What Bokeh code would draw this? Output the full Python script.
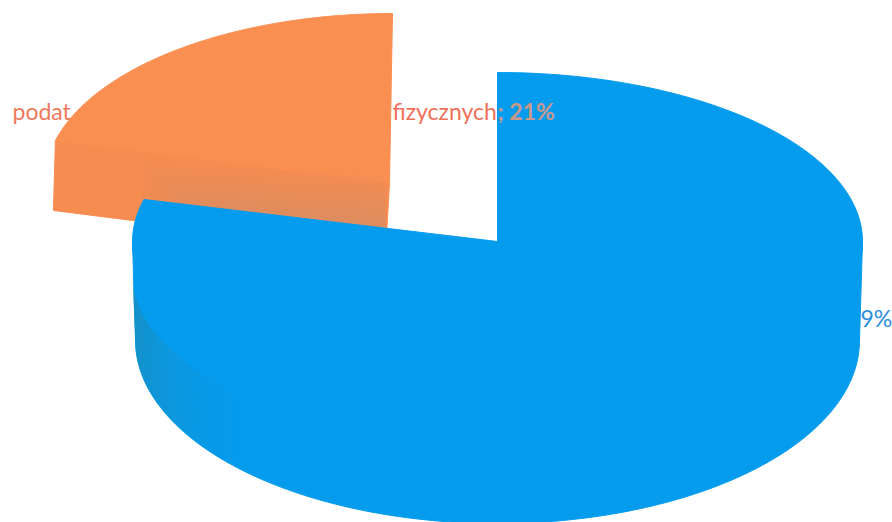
import numpy as np
from bokeh.plotting import figure
from bokeh.models import Range1d
from bokeh.core.properties import value
from bokeh.embed import file_html
from bokeh.resources import INLINE

categories = ["blue share", "podat... fizycznych"]
shares = [79, 21]
label_parts = ["podat", "fizycznych", "; 21%", "9%"]

BLUE = "#069CEE"
BLUE_DARK = "#1B8DB8"
ORANGE = "#FA8F52"
ORANGE_FACE = "#F78C50"

W, H = 892, 522
p = figure(width=W, height=H, output_backend="svg", toolbar_location=None,
           x_range=Range1d(0, W), y_range=Range1d(H, 0),
           min_border=0, outline_line_color=None, background_fill_color="white",
           border_fill_color="white")
p.axis.visible = False
p.grid.visible = False


def ell(cx, cy, rx, ry, a0, a1, n=160):
    """Points of an ellipse; angles clockwise from twelve o'clock, in radians."""
    t = np.linspace(a0, a1, n)
    return cx + rx * np.sin(t), cy - ry * np.cos(t)


split = 2 * np.pi * shares[0] / sum(shares)

# label text sits below the slices
fs = "23px"
font = value("Lato")
p.text([12], [110], text=[label_parts[0]], text_color="#F0785C", text_font=font,
       text_font_size=fs, text_baseline="middle")
p.text([392], [110], text=[label_parts[1]], text_color="#EE7058", text_font=font,
       text_font_size=fs, text_baseline="middle")

# exploded orange slice
ocx, ocy, orx, ory, od = 392, 182, 348, 169, 70
xt, yt = ell(ocx, ocy, orx, ory, split, 2 * np.pi)
top_x = list(xt) + [ocx - 3]
top_y = list(yt) + [ocy]
face_x = [xt[0], ocx - 3, ocx - 7, xt[0] - 2]
face_y = [yt[0], ocy, ocy + od, yt[0] + od]
p.patch(face_x, face_y, fill_color=ORANGE_FACE, line_color=ORANGE_FACE)
p.patch(top_x, top_y, fill_color=ORANGE, line_color=ORANGE)
# greyish soft shading of the cut face
for k in range(7):
    left = xt[0] + 85 + 9 * k
    right = ocx - 7
    top_l = yt[0] + 22 + 7 * k
    top_r = top_l + 14
    gx = [left, right, right, left]
    gy = [top_l, top_r, ocy + od, yt[0] + od]
    p.patch(gx, gy, fill_color="#A8968C", fill_alpha=0.05, line_color=None)

# blue pie
cx, cy, rx, ry = 497, 241, 365, 169
lcy, lrx, lry = 340, 362, 183
x_low, y_low = ell(cx, lcy, lrx, lry, np.pi / 2, 3 * np.pi / 2)
x_up, y_up = ell(cx, cy, rx, ry, 3 * np.pi / 2, np.pi / 2)
p.patch(list(x_low) + list(x_up), list(y_low) + list(y_up),
        fill_color=BLUE, line_color=BLUE)

# darker left part of the rim, fading to the right
edges = np.radians(np.linspace(270, 225, 25))
shift = 33
for i in range(len(edges) - 1):
    xa, ya = ell(cx, lcy, lrx, lry, edges[i + 1], edges[i], 8)
    xb, yb = ell(cx, cy + shift, rx, ry, edges[i], edges[i + 1], 8)
    alpha = 0.9 * (1 - i / (len(edges) - 1)) ** 1.3
    p.patch(list(xa) + list(xb), list(ya) + list(yb), fill_color=BLUE_DARK,
            fill_alpha=alpha, line_color=None)

xs, ys = ell(cx, cy, rx, ry, 0, split, 300)
p.patch(list(xs) + [cx], list(ys) + [cy], fill_color=BLUE, line_color=BLUE)

# labels above the pie
p.text([497], [110], text=[label_parts[2]], text_color="#C9988A", text_font=font,
       text_font_size=fs, text_font_style="bold", text_baseline="middle")
p.text([860], [317], text=[label_parts[3]], text_color="#2C8FDB", text_font=font,
       text_font_size=fs, text_baseline="middle")

open("out.html", "w").write(file_html(p, INLINE))
